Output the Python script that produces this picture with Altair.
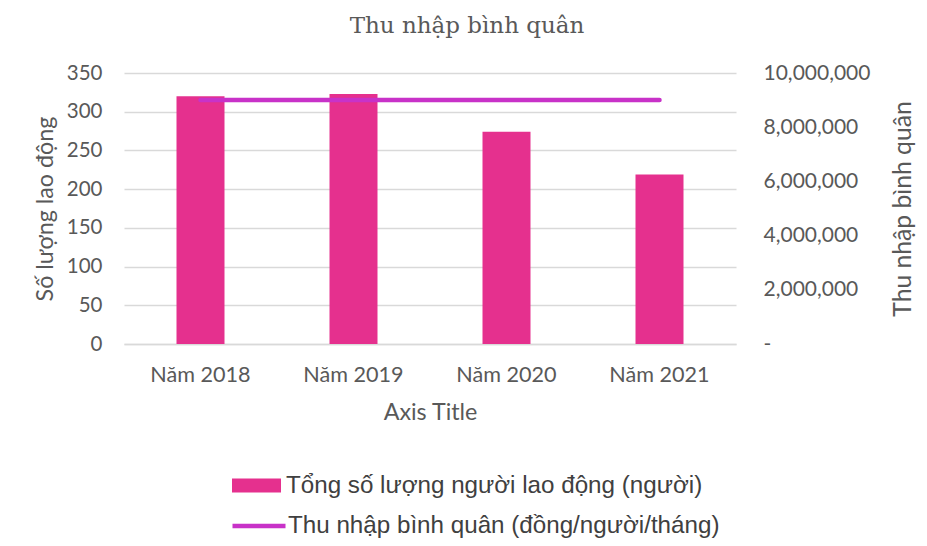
import altair as alt
import pandas as pd

years = ["Năm 2018", "Năm 2019", "Năm 2020", "Năm 2021"]
workers = [320, 323, 274, 219]
income = [9000000, 9000000, 9000000, 9000000]
bar_label = "Tổng số lượng người lao động (người)"
line_label = "Thu nhập bình quân (đồng/người/tháng)"

df = pd.DataFrame({
    "year": years,
    "workers": workers,
    "income": income,
    "bar_series": [bar_label] * 4,
    "line_series": [line_label] * 4,
})

AXIS_FONT = "Lato"
GREY = "#595959"

x_enc = alt.X(
    "year:N", sort=years,
    scale=alt.Scale(paddingInner=0, paddingOuter=0),
    axis=alt.Axis(title="Axis Title", labelAngle=0, labelFont=AXIS_FONT, labelFontSize=21.6,
                  labelColor=GREY, titleFont=AXIS_FONT, titleFontSize=23.3, titleColor=GREY,
                  titleFontWeight="normal", ticks=False, domain=True, domainColor="#D9D9D9",
                  domainWidth=1.5, labelPadding=20, titlePadding=16, grid=False),
)

bars = alt.Chart(df).mark_bar(size=48).encode(
    x=x_enc,
    y=alt.Y("workers:Q", scale=alt.Scale(domain=[0, 350]),
            axis=alt.Axis(title="Số lượng lao động", values=[0, 50, 100, 150, 200, 250, 300, 350],
                          labelFont=AXIS_FONT, labelFontSize=20.5, labelColor=GREY,
                          titleFont=AXIS_FONT, titleFontSize=23.3, titleColor=GREY,
                          titleFontWeight="normal", ticks=False, domain=False,
                          labelPadding=22, titlePadding=9,
                          grid=True, gridColor="#D9D9D9", gridWidth=1.5)),
    color=alt.Color("bar_series:N", scale=alt.Scale(range=["#E5308E"]),
                    legend=alt.Legend(title=None, orient="none", legendX=108, legendY=388,
                                      symbolType="M-1,-0.29H1V0.29H-1Z", symbolSize=2401,
                                      symbolStrokeWidth=0, labelFont="Liberation Sans",
                                      labelFontSize=24.2, labelColor="#404040", labelOffset=5,
                                      labelLimit=700)),
)

line = alt.Chart(df).mark_line(strokeWidth=4.5, strokeCap="round").encode(
    x=alt.X("year:N", sort=years),
    y=alt.Y("income:Q", scale=alt.Scale(domain=[0, 10000000]),
            axis=alt.Axis(title="Thu nhập bình quân", orient="right", titleAngle=270,
                          values=[0, 2000000, 4000000, 6000000, 8000000, 10000000],
                          labelExpr="datum.value == 0 ? '-' : format(datum.value, ',')",
                          labelFont=AXIS_FONT, labelFontSize=21, labelColor=GREY,
                          titleFont=AXIS_FONT, titleFontSize=24.7, titleColor=GREY,
                          titleFontWeight="normal", ticks=False, domain=False,
                          labelPadding=27, titlePadding=46, grid=False)),
    color=alt.Color("line_series:N", scale=alt.Scale(range=["#C832C8"]),
                    legend=alt.Legend(title=None, orient="none", legendX=106, legendY=424,
                                      symbolType="stroke", symbolSize=2809,
                                      symbolStrokeWidth=4.5, labelFont="Liberation Sans",
                                      labelFontSize=24.2, labelColor="#404040", labelOffset=0,
                                      labelLimit=700)),
)

chart = alt.layer(bars, line).resolve_scale(y="independent", color="independent").properties(
    width=612, height=271,
    title=alt.TitleParams("Thu nhập bình quân", font="DejaVu Serif", fontSize=23,
                          fontWeight="normal", color=GREY, anchor="middle", dx=37, offset=24),
    autosize=alt.AutoSizeParams(type="none"),
    padding={"left": 116, "top": 65, "right": 180, "bottom": 194},
).configure_view(stroke=None)

chart.save("out.html", embed_options={"renderer": "svg", "actions": False})
